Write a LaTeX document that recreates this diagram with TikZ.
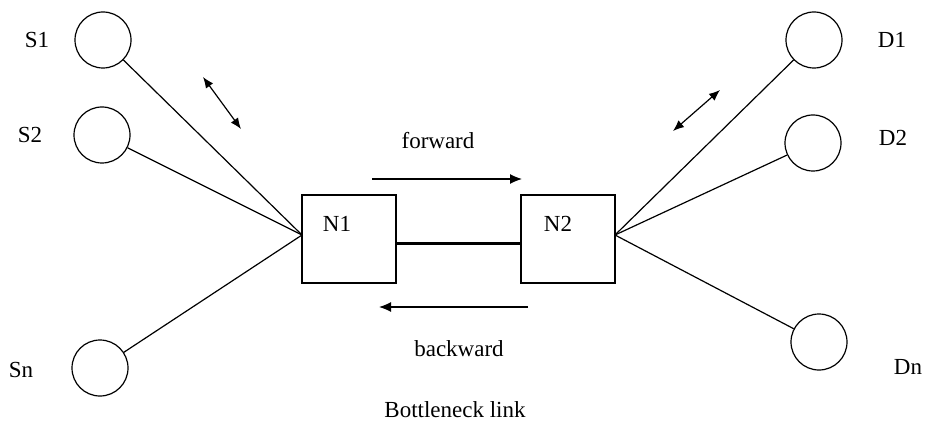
\documentclass[tikz,border=0pt]{standalone}
\usepackage{fontspec}
\setmainfont{Liberation Serif}
\usetikzlibrary{arrows.meta}
\begin{document}
\begin{tikzpicture}[x=1pt,y=-1pt,
  host/.style={draw,circle,minimum size=56pt,inner sep=0pt,line width=1.2pt},
  router/.style={draw,rectangle,minimum width=94pt,minimum height=88pt,line width=1.2pt,inner sep=0pt},
  lbl/.style={font=\fontsize{23}{27}\selectfont,inner sep=0pt},
  wire/.style={line width=1.2pt},
  flow/.style={line width=1.2pt,-{Latex[length=12pt,width=10pt]}},
  dflow/.style={line width=1.2pt,{Latex[length=11pt,width=9pt]}-{Latex[length=11pt,width=9pt]}}]
\useasboundingbox (0,0) rectangle (926,422);
% hosts
\node[host] (S1) at (103,40) {};
\node[host] (S2) at (102,135) {};
\node[host] (Sn) at (100,368) {};
\node[host] (D1) at (814,40) {};
\node[host] (D2) at (813,143) {};
\node[host] (Dn) at (819,342) {};
\node[lbl] (lS1) at (37,40) {S1};
\node[lbl] (lS2) at (30,135) {S2};
\node[lbl] (lSn) at (21,370) {Sn};
\node[lbl] (lD1) at (892,40) {D1};
\node[lbl] (lD2) at (893,138) {D2};
\node[lbl] (lDn) at (908,367) {Dn};
% routers
\node[router] (N1) at (349,239) {};
\node[router] (N2) at (568,239) {};
\node[lbl] (lN1) at (337,224) {N1};
\node[lbl] (lN2) at (558,224) {N2};
\coordinate (P1) at (302,235);
\coordinate (P2) at (615,235);
\coordinate (L1) at (396,243);
\coordinate (L2) at (521,243);
% wires
\draw[wire] (S1) -- (P1);
\draw[wire] (S2) -- (P1);
\draw[wire] (Sn) -- (P1);
\draw[wire] (D1) -- (P2);
\draw[wire] (D2) -- (P2);
\draw[wire] (Dn) -- (P2);
\draw[line width=3pt] (L1) -- (L2);
% flows
\coordinate (F1) at (372,179);
\coordinate (F2) at (522,179);
\coordinate (B1) at (528,307);
\coordinate (B2) at (379,307);
\draw[flow] (F1) -- (F2);
\draw[flow] (B1) -- (B2);
\coordinate (A1) at (203,77);
\coordinate (A2) at (241,129);
\coordinate (A3) at (720,90);
\coordinate (A4) at (673,131);
\draw[dflow] (A1) -- (A2);
\draw[dflow] (A3) -- (A4);
\node[lbl] (fw) at (438,141) {forward};
\node[lbl] (bw) at (459,349) {backward};
\node[lbl] (bn) at (455,410) {Bottleneck link};
\end{tikzpicture}
\end{document}
